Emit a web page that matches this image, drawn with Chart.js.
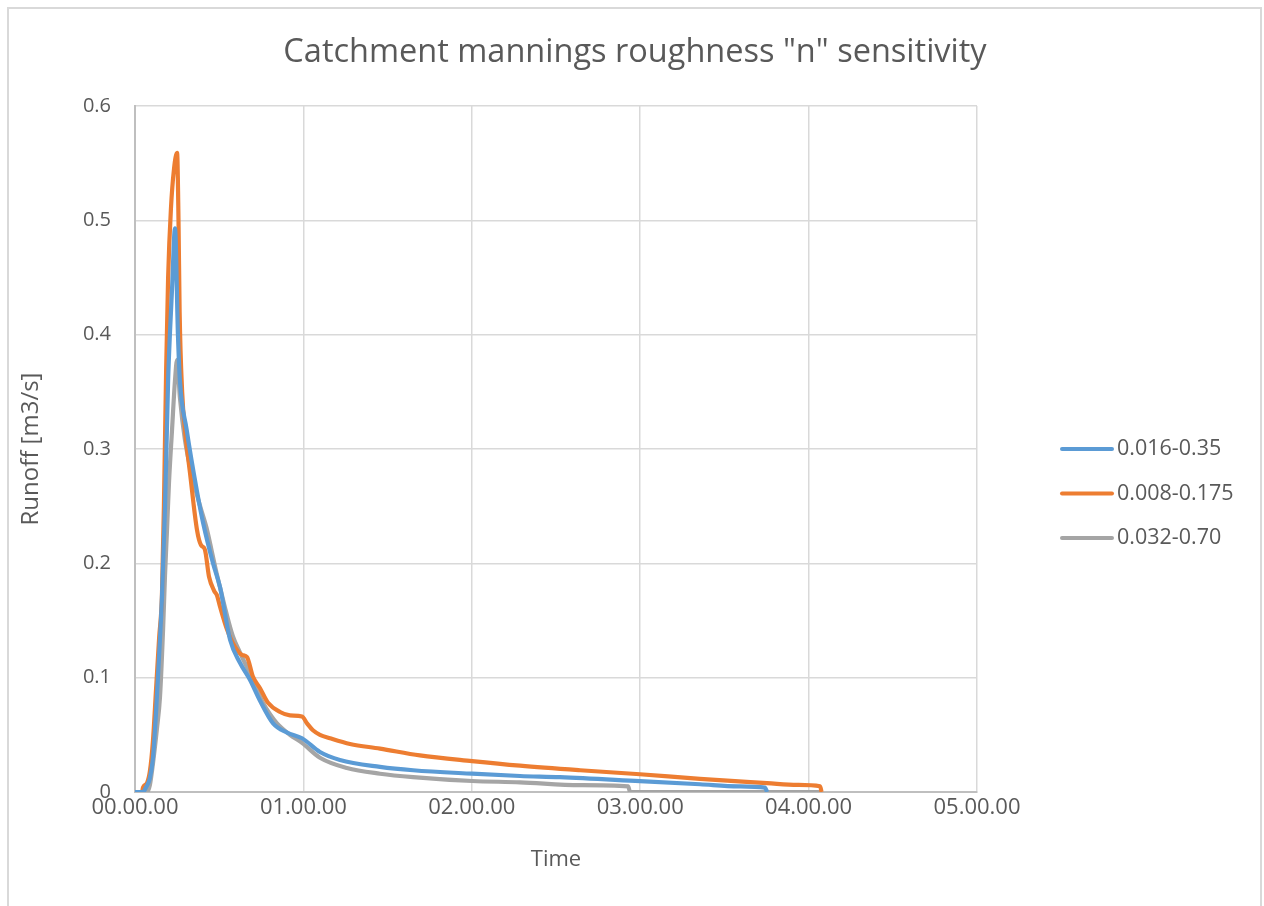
<!DOCTYPE html>
<html>
<head>
<meta charset="utf-8">
<script src="https://cdn.jsdelivr.net/npm/chart.js@4.4.1/dist/chart.umd.min.js"></script>
<style>
  html, body { margin: 0; padding: 0; background: #fff; overflow: hidden; }
  #wrap { position: relative; width: 1264px; height: 906px; }
  #moldura { position: absolute; left: 7px; top: 7px; width: 1255px; height: 920px; border: 2px solid #d9d9d9; box-sizing: border-box; }
  canvas { position: absolute; left: 0; top: 0; }
</style>
</head>
<body>
<div id="wrap">
  <div id="moldura"></div>
  <canvas id="grafico" width="1264" height="906"></canvas>
</div>
<script>
// Séries (tempo em minutos, vazão em m3/s)
const titulo = 'Catchment mannings roughness "n" sensitivity';
const nomesSeries = ['0.016-0.35', '0.008-0.175', '0.032-0.70'];
const cores = ['#5b9bd5', '#ed7d31', '#a5a5a5'];

const tempoAzul = [0, 2.85, 3.9, 5.3, 6.4, 7.5, 8.6, 9.6, 10.7, 11.8, 12.5, 13.2, 14.25, 15.3, 16.0, 18.4, 22.0, 24.3, 27.8, 30.3, 33.9, 37.4, 41.0, 44.5, 49.2, 54.2, 59.5, 65.9, 73.0, 87.3, 99.1, 120.1, 137.2, 151.4, 179.9, 201.3, 215.0, 224.5, 225.2];
const vazaoAzul = [0, 0, 0.004, 0.012, 0.03, 0.07, 0.12, 0.17, 0.25, 0.36, 0.404, 0.44, 0.493, 0.40, 0.36, 0.317, 0.264, 0.235, 0.2, 0.179, 0.133, 0.113, 0.098, 0.08, 0.06, 0.052, 0.047, 0.035, 0.028, 0.022, 0.019, 0.016, 0.014, 0.013, 0.0095, 0.0068, 0.0050, 0.0038, 0];

const tempoLaranja = [0, 2.5, 2.85, 4.3, 5.3, 6.4, 7.5, 8.6, 9.6, 10.3, 11.1, 11.8, 12.8, 13.9, 15.0, 15.5, 15.9, 16.8, 17.8, 19.6, 22.1, 23.5, 24.9, 26.4, 28.2, 29.2, 30.3, 32.8, 35.6, 38.1, 39.9, 42.0, 44.5, 47.4, 51.7, 55.2, 59.5, 61.3, 63.4, 65.9, 69.5, 76.6, 87.3, 101.5, 120.1, 137.2, 158.6, 179.9, 201.3, 225.2, 236.0, 244.1, 244.6];
const vazaoLaranja = [0, 0, 0.004, 0.008, 0.018, 0.045, 0.09, 0.135, 0.172, 0.25, 0.37, 0.45, 0.51, 0.545, 0.559, 0.5, 0.42, 0.35, 0.317, 0.279, 0.229, 0.216, 0.212, 0.188, 0.176, 0.172, 0.162, 0.142, 0.127, 0.12, 0.118, 0.101, 0.091, 0.078, 0.07, 0.067, 0.066, 0.06, 0.054, 0.05, 0.047, 0.042, 0.038, 0.032, 0.027, 0.023, 0.019, 0.0155, 0.0115, 0.0078, 0.0062, 0.005, 0];

const tempoCinza = [0, 4.3, 5.3, 6.4, 7.8, 8.9, 10.0, 10.7, 11.4, 12.1, 13.2, 14.25, 15.0, 16.0, 17.8, 20.7, 23.2, 25.7, 27.4, 29.2, 30.3, 32.4, 34.9, 37.4, 39.9, 42.0, 45.6, 48.1, 50.6, 55.2, 59.5, 65.9, 75.5, 87.3, 99.1, 120.1, 137.2, 158.6, 175.7, 176.4, 244.4];
const vazaoCinza = [0, 0, 0.006, 0.025, 0.055, 0.083, 0.142, 0.19, 0.229, 0.27, 0.317, 0.36, 0.378, 0.345, 0.308, 0.273, 0.25, 0.229, 0.21, 0.19, 0.179, 0.158, 0.136, 0.122, 0.109, 0.098, 0.078, 0.068, 0.06, 0.05, 0.043, 0.03, 0.021, 0.016, 0.013, 0.0096, 0.0085, 0.006, 0.005, 0, 0];

const ticksTempo = [0, 60, 120, 180, 240, 300];
const rotulosTempo = ['00.00.00', '01.00.00', '02.00.00', '03.00.00', '04.00.00', '05.00.00'];

const fonte = '"Open Sans", "DejaVu Sans", sans-serif';
const corTexto = '#595959';

function pontos(tempos, vazoes) {
  return tempos.map((t, i) => ({ x: t, y: vazoes[i] }));
}

// Título e legenda desenhados à mão para ficarem no lugar certo
const extras = {
  id: 'extras',
  afterDraw(chart) {
    const c = chart.ctx;
    c.save();
    c.fillStyle = corTexto;
    c.font = '32.5px ' + fonte;
    c.textAlign = 'center';
    c.textBaseline = 'middle';
    c.fillText(titulo, 635, 53);

    c.font = '21.5px ' + fonte;
    c.textAlign = 'left';
    chart.data.datasets.forEach((ds, i) => {
      const y = 449 + i * 44.5;
      c.strokeStyle = ds.borderColor;
      c.lineWidth = 4;
      c.lineCap = 'round';
      c.beginPath();
      c.moveTo(1062, y);
      c.lineTo(1112, y);
      c.stroke();
      c.fillText(ds.label, 1117, y);
    });
    c.restore();
  },
};

const series = [
  pontos(tempoAzul, vazaoAzul),
  pontos(tempoLaranja, vazaoLaranja),
  pontos(tempoCinza, vazaoCinza),
];

const ctx = document.getElementById('grafico').getContext('2d');
const grafico = new Chart(ctx, {
  type: 'line',
  data: {
    datasets: series.map((dados, i) => ({
      label: nomesSeries[i],
      data: dados,
      borderColor: cores[i],
      backgroundColor: cores[i],
      borderWidth: 4.2,
      pointRadius: 0,
      cubicInterpolationMode: 'monotone',
      borderJoinStyle: 'round',
      fill: false,
    })),
  },
  options: {
    responsive: false,
    animation: false,
    layout: { padding: { left: 10, right: 287, top: 106, bottom: 0 } },
    plugins: {
      legend: { display: false },
      title: { display: false },
      tooltip: { enabled: false },
    },
    scales: {
      x: {
        type: 'linear',
        min: 0,
        max: 300,
        afterBuildTicks: (s) => { s.ticks = ticksTempo.map((v) => ({ value: v })); },
        afterFit: (s) => { s.height = 114; },
        ticks: {
          color: corTexto,
          font: { family: fonte, size: 22 },
          padding: 3,
          maxRotation: 0,
          callback: (v) => rotulosTempo[ticksTempo.indexOf(v)],
        },
        grid: { color: '#d9d9d9', lineWidth: 1.5, drawTicks: false },
        border: { display: true, color: '#bfbfbf', width: 2 },
        title: {
          display: true,
          text: 'Time',
          color: corTexto,
          font: { family: fonte, size: 22 },
          padding: { top: 0, bottom: 33 },
        },
      },
      y: {
        min: 0,
        max: 0.6,
        afterFit: (s) => { s.width = 125; },
        ticks: {
          stepSize: 0.1,
          color: corTexto,
          font: { family: fonte, size: 20 },
          padding: 24,
          callback: (v) => (v === 0 ? '0' : v.toFixed(1)),
        },
        grid: { color: '#d9d9d9', lineWidth: 1.5, drawTicks: false },
        border: { display: true, color: '#bfbfbf', width: 2 },
        title: {
          display: true,
          text: 'Runoff [m3/s]',
          color: corTexto,
          font: { family: fonte, size: 24 },
          padding: { top: 7, bottom: 0 },
        },
      },
    },
  },
  plugins: [extras],
});
</script>
</body>
</html>
